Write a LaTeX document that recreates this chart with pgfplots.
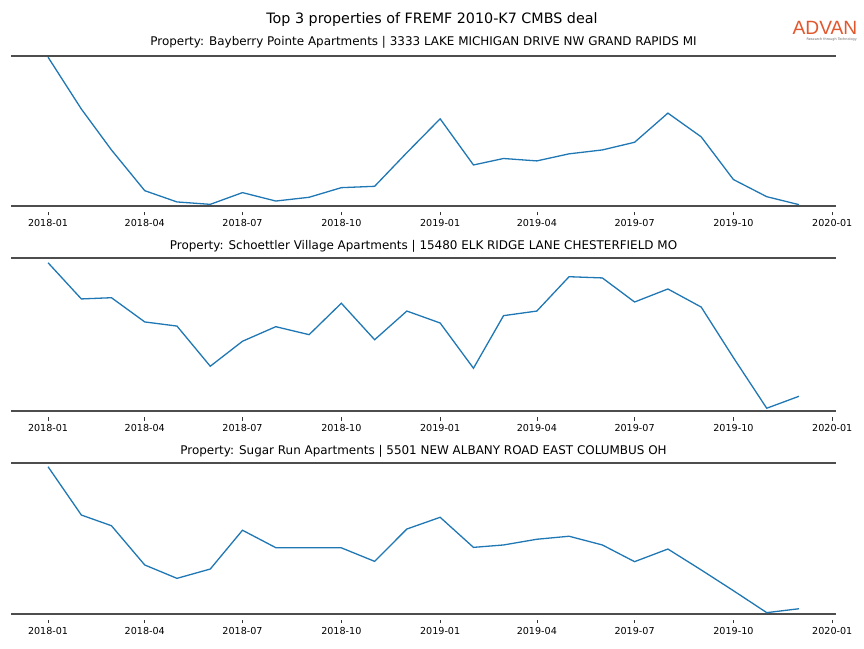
\documentclass[border=0pt]{standalone}
\usepackage{pgfplots}
\usepackage{pgfplotstable}
\pgfplotsset{compat=1.18}
\usepackage{fontspec}
\setmainfont{DejaVu Sans}
\newfontfamily\logofont{Liberation Sans}
\definecolor{mplblue}{HTML}{1F77B4}
\definecolor{spinec}{HTML}{4D4D4D}
\definecolor{advan}{HTML}{E2572C}

\pgfplotstableread{
d v
0 0.99
31 0.645
59 0.373
90 0.102
120 0.027
151 0.011
181 0.089
212 0.033
243 0.058
273 0.122
304 0.131
334 0.355
365 0.58
396 0.273
424 0.316
455 0.30
485 0.347
516 0.373
546 0.424
577 0.618
608 0.46
638 0.176
669 0.062
699 0.009
}\dataA

\pgfplotstableread{
d v
0 0.967
31 0.731
59 0.739
90 0.581
120 0.554
151 0.292
181 0.455
212 0.550
243 0.498
273 0.703
304 0.465
334 0.652
365 0.574
396 0.279
424 0.622
455 0.652
485 0.876
516 0.868
546 0.711
577 0.796
608 0.678
638 0.348
669 0.018
699 0.096
}\dataB

\pgfplotstableread{
d v
0 0.977
31 0.656
59 0.585
90 0.324
120 0.235
151 0.297
181 0.555
212 0.439
243 0.439
273 0.438
304 0.348
334 0.563
365 0.641
396 0.441
424 0.457
455 0.495
485 0.515
516 0.457
546 0.346
577 0.430
608 0.291
638 0.153
669 0.007
699 0.033
}\dataC

\tikzset{
  spine/.style={draw=spinec, line width=1.7pt},
  dline/.style={draw=mplblue, line width=1.3pt},
}
\pgfplotsset{
  panel/.style={
    scale only axis,
    width=825pt,
    xmin=-34.5, xmax=733.5,
    ymax=1,
    axis line style={draw=none},
    ytick=\empty,
    xtick={0,90,181,273,365,455,546,638,730},
    xticklabels={2018-01,2018-04,2018-07,2018-10,2019-01,2019-04,2019-07,2019-10,2020-01},
    xtick pos=bottom,
    tick align=outside,
    major tick length=3.5pt,
    tick style={black!80, line width=0.6pt},
    xticklabel shift=3pt,
    xticklabel style={font=\fontsize{9.6}{11}\selectfont, inner sep=1pt},
    clip=false,
    anchor=south west,
  },
}

\begin{document}
\begin{tikzpicture}
\path[use as bounding box] (0,0) rectangle (864pt,648pt);

% main title
\node[anchor=base, inner sep=0pt, font=\fontsize{14.3}{16}\selectfont] at (432pt,624.7pt) {Top 3 properties of FREMF 2010-K7 CMBS deal};

% logo
\node[anchor=base east, inner sep=0pt, text depth=0pt, text=advan, font=\logofont\fontsize{19.2}{21}\selectfont] at (857.5pt,613pt) {ADVAN};
\node[anchor=base east, inner sep=0pt, text depth=0pt, text=black!60, font=\fontsize{3.4}{4}\selectfont] at (857pt,607.5pt) {Research through Technology};

% panel 1
\begin{axis}[panel, at={(11pt,436pt)}, height=156.3pt, ymin=-0.0399]
  \draw[spine] (axis cs:-34.5,0) -- (axis cs:733.5,0);
  \draw[spine] (axis cs:-34.5,1) -- (axis cs:733.5,1);
  \addplot[dline] table[x=d,y=v] {\dataA};
\end{axis}
\node[anchor=base, inner sep=0pt, font=\fontsize{11.95}{13}\selectfont] at (423.5pt,602.3pt) {Property: Bayberry Pointe Apartments | 3333 LAKE MICHIGAN DRIVE NW GRAND RAPIDS MI};

% panel 2
\begin{axis}[panel, at={(11pt,231pt)}, height=159.3pt, ymin=-0.0391]
  \draw[spine] (axis cs:-34.5,0) -- (axis cs:733.5,0);
  \draw[spine] (axis cs:-34.5,1) -- (axis cs:733.5,1);
  \addplot[dline] table[x=d,y=v] {\dataB};
\end{axis}
\node[anchor=base, inner sep=0pt, font=\fontsize{11.95}{13}\selectfont] at (423.5pt,398pt) {Property: Schoettler Village Apartments | 15480 ELK RIDGE LANE CHESTERFIELD MO};

% panel 3
\begin{axis}[panel, at={(11pt,28.3pt)}, height=156.4pt, ymin=-0.0399]
  \draw[spine] (axis cs:-34.5,0) -- (axis cs:733.5,0);
  \draw[spine] (axis cs:-34.5,1) -- (axis cs:733.5,1);
  \addplot[dline] table[x=d,y=v] {\dataC};
\end{axis}
\node[anchor=base, inner sep=0pt, font=\fontsize{11.95}{13}\selectfont] at (423.5pt,193.7pt) {Property: Sugar Run Apartments | 5501 NEW ALBANY ROAD EAST COLUMBUS OH};
\end{tikzpicture}
\end{document}
